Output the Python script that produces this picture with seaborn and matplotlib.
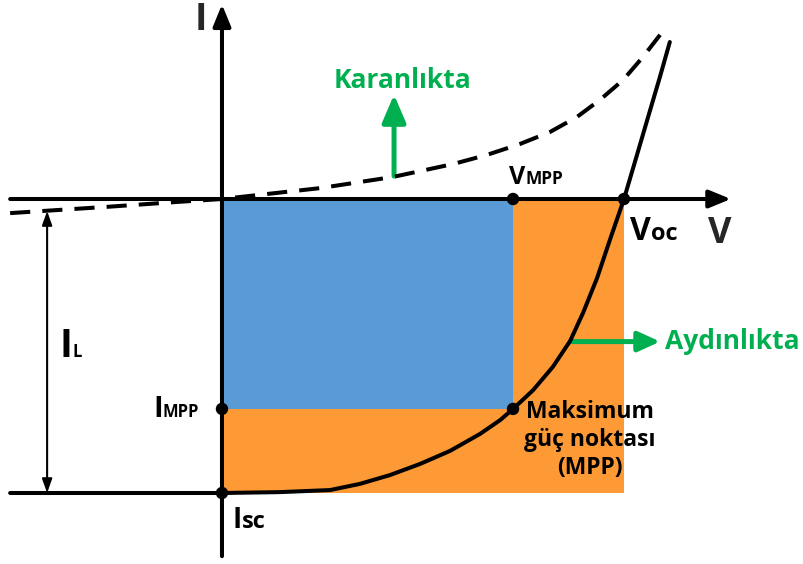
import matplotlib
matplotlib.use("Agg")
import matplotlib.pyplot as plt
import seaborn as sns
from matplotlib.patches import Rectangle

# Normalised I-V characteristic of a solar cell (V / V_oc, I / I_sc)
light_v = [-0.527, -0.179, 0.0, 0.144, 0.269, 0.343, 0.418, 0.493, 0.567, 0.642,
           0.692, 0.724, 0.774, 0.823, 0.866, 0.898, 0.933, 0.965, 1.0, 1.030,
           1.060, 1.090, 1.114]
light_i = [-1.0, -1.0, -1.0, -0.997, -0.990, -0.969, -0.939, -0.901, -0.857, -0.799,
           -0.752, -0.714, -0.650, -0.571, -0.483, -0.388, -0.269, -0.139, 0.0, 0.139,
           0.279, 0.418, 0.534]

dark_v = [-0.527, -0.403, -0.279, -0.112, 0.0, 0.244, 0.425, 0.575, 0.659, 0.741,
          0.816, 0.883, 0.940, 0.998, 1.047, 1.097]
dark_i = [-0.048, -0.037, -0.026, -0.010, 0.0, 0.037, 0.075, 0.119, 0.150, 0.187,
          0.228, 0.279, 0.337, 0.405, 0.483, 0.571]

v_mpp, i_mpp = 0.724, -0.714
v_oc, i_sc = 1.0, -1.0

point_v = [v_mpp, v_oc, 0.0, v_mpp, 0.0]
point_i = [0.0, 0.0, i_mpp, i_mpp, i_sc]

BLUE = "#5B9BD5"
ORANGE = "#FD9A36"
GREEN = "#00B050"
LW = 2.9

sns.set_theme(style="white")
plt.rcParams["font.family"] = ["Open Sans", "DejaVu Sans"]
plt.rcParams["font.weight"] = "bold"
plt.rcParams["lines.solid_joinstyle"] = "round"
plt.rcParams["lines.dash_joinstyle"] = "round"

fig = plt.figure(figsize=(8.04, 5.64), dpi=100)
ax = fig.add_axes([0, 0, 1, 1])
ax.set_xlim(-0.5522, 1.4478)
ax.set_ylim(-1.2415, 0.6769)
ax.axis("off")

# power rectangles
ax.add_patch(Rectangle((0, i_sc), v_oc, -i_sc, facecolor=ORANGE, edgecolor="none", zorder=1))
ax.add_patch(Rectangle((0, i_mpp), v_mpp, -i_mpp, facecolor=BLUE, edgecolor="none", zorder=2))

# coordinate axes with arrow heads
axis_arrow = dict(arrowstyle="-|>,head_length=1.1,head_width=0.45", lw=LW,
                  color="black", shrinkA=0, shrinkB=0)
ax.annotate("", xy=(1.266, 0.0), xytext=(-0.527, 0.0), arrowprops=axis_arrow, zorder=3)
ax.annotate("", xy=(0.0, 0.662), xytext=(0.0, -1.215), arrowprops=axis_arrow, zorder=3)

# curves: under illumination (solid) and in the dark (dashed)
sns.lineplot(x=light_v, y=light_i, sort=False, color="black", lw=LW, ax=ax, zorder=4)
sns.lineplot(x=dark_v, y=dark_i, sort=False, color="black", lw=LW, ax=ax, zorder=4)
ax.lines[-1].set_linestyle((0, (5, 3)))

sns.scatterplot(x=point_v, y=point_i, color="black", s=80, edgecolor="none", ax=ax, zorder=5)

# photocurrent I_L
ax.annotate("", xy=(-0.435, i_sc), xytext=(-0.435, -0.041),
            arrowprops=dict(arrowstyle="<|-|>,head_length=0.7,head_width=0.25", lw=1.5,
                            color="black", shrinkA=0, shrinkB=0), zorder=3)

# green pointer arrows
green_arrow = dict(arrowstyle="-|>,head_length=1.4,head_width=0.6", lw=3.6,
                   color=GREEN, shrinkA=0, shrinkB=0)
ax.annotate("", xy=(0.428, 0.355), xytext=(0.428, 0.078), arrowprops=green_arrow, zorder=3)
green_arrow2 = dict(arrowstyle="-|>,head_length=1.1,head_width=0.5", lw=3.6,
                    color=GREEN, shrinkA=0, shrinkB=0)
ax.annotate("", xy=(1.090, -0.485), xytext=(0.866, -0.485), arrowprops=green_arrow2, zorder=3)


def label(x, y, big, small, big_size, small_size):
    ax.text(x, y, big, ha="right", va="baseline", fontsize=big_size,
            fontweight="bold", color="black", zorder=6)
    ax.text(x, y, small, ha="left", va="baseline", fontsize=small_size,
            fontweight="bold", color="black", zorder=6)


ax.text(-0.052, 0.575, "I", ha="center", va="baseline", fontsize=27, fontweight="bold")
ax.text(1.239, -0.150, "V", ha="center", va="baseline", fontsize=26, fontweight="bold")
label(1.067, -0.139, "V", "oc", 23, 17)
label(0.754, 0.051, "V", "MPP", 18, 12.5)
label(-0.373, -0.537, "I", "L", 28, 12)
label(-0.147, -0.741, "I", "MPP", 21, 12)
label(0.050, -1.119, "I", "sc", 20, 17)

ax.text(0.448, 0.378, "Karanlıkta", ha="center", va="baseline", fontsize=19,
        fontweight="bold", color=GREEN)
ax.text(1.102, -0.510, "Aydınlıkta", ha="left", va="baseline", fontsize=19,
        fontweight="bold", color=GREEN)
ax.text(0.915, -0.684, "Maksimum\ngüç noktası\n(MPP)", ha="center", va="top",
        fontsize=16.5, fontweight="bold", color="black", linespacing=1.22, zorder=6)

fig.savefig("out.png", dpi=100)
